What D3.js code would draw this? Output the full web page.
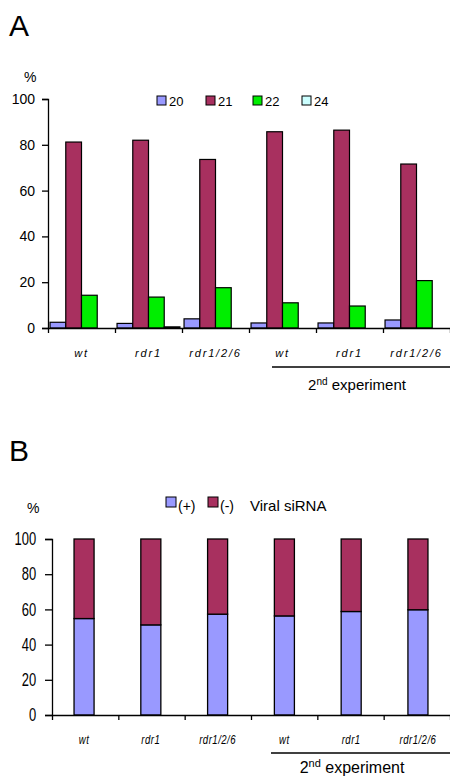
<!DOCTYPE html>
<html>
<head>
<meta charset="utf-8">
<script src="https://cdn.jsdelivr.net/npm/d3@7"></script>
<style>
  body { margin: 0; background: #fff; }
  svg { display: block; font-family: "Liberation Sans", Arial, sans-serif; }
  .axis path, .axis line { stroke: #000; stroke-width: 1.3; }
  .cat { font-style: italic; font-size: 11px; letter-spacing: 1.8px; }
</style>
</head>
<body>
<div id="chart"></div>
<script>
// data
var categories = ["wt", "rdr1", "rdr1/2/6", "wt", "rdr1", "rdr1/2/6"];
var sizes = ["20", "21", "22", "24"];
var nt20 = [2.5, 2, 4, 2.2, 2.2, 3.5];
var nt21 = [81.2, 82, 73.6, 85.7, 86.4, 71.6];
var nt22 = [14.3, 13.5, 17.6, 11, 9.6, 20.7];
var nt24 = [0, 0.5, 0, 0, 0, 0];
var strands = ["(+)", "(-)"];
var plusStrand = [54.8, 51.2, 57.3, 56.3, 58.8, 59.8];
var yTicks = [0, 20, 40, 60, 80, 100];

var sizeColors = ["#9999ff", "#a8305f", "#00ee00", "#ccffff"];
var strandColors = ["#9999ff", "#a8305f"];

var svg = d3.select('#chart').append('svg')
  .attr('width', 450)
  .attr('height', 778);

var catIds = categories.map(function(d, i) { return i; });

// ---------- panel A ----------
var gA = svg.append('g');

gA.append('text').attr('x', 9).attr('y', 36)
  .style('font-size', '30px').text('A');
gA.append('text').attr('x', 24).attr('y', 82)
  .style('font-size', '14px').text('%');

var yA = d3.scaleLinear().domain([0, 100]).range([328, 99]);
var xA = d3.scaleBand().domain(catIds).range([48, 450]).paddingInner(0).paddingOuter(0);
var xA1 = d3.scaleBand().domain(sizes).range([0, xA.bandwidth()]).paddingOuter(0.13).paddingInner(0);
var edgeA = d3.scaleLinear().domain([0, categories.length]).range([48, 450]);

var seriesA = [nt20, nt21, nt22, nt24];

gA.append('g').attr('class', 'axis')
  .attr('transform', 'translate(48,0)')
  .call(d3.axisLeft(yA).tickValues(yTicks).tickSizeOuter(0).tickSize(6).tickPadding(7))
  .call(function(g) { g.selectAll('text').style('font-size', '14px').attr('fill', '#000'); });

var barsA = gA.append('g');
categories.forEach(function(c, i) {
  seriesA.forEach(function(s, j) {
    barsA.append('rect')
      .attr('x', xA(i) + xA1(sizes[j]))
      .attr('y', yA(s[i]))
      .attr('width', xA1.bandwidth())
      .attr('height', yA(0) - yA(s[i]))
      .attr('fill', sizeColors[j])
      .attr('stroke', '#000')
      .attr('stroke-width', 1.2);
  });
});

gA.append('g').attr('class', 'axis')
  .attr('transform', 'translate(0,' + yA(0) + ')')
  .call(d3.axisBottom(edgeA).tickValues(d3.range(1, categories.length)).tickSizeOuter(0).tickSize(5).tickFormat(''));

gA.selectAll('.catA').data(categories).enter().append('text')
  .attr('class', 'cat')
  .attr('x', function(d, i) { return xA(i) + xA.bandwidth() / 2; })
  .attr('y', 357)
  .attr('text-anchor', 'middle')
  .text(function(d) { return d; });

// legend A
var legA = gA.append('g').attr('transform', 'translate(157,96)');
var legAx = [0, 49, 96, 145];
sizes.forEach(function(s, j) {
  legA.append('rect').attr('x', legAx[j]).attr('y', 0).attr('width', 9).attr('height', 9)
    .attr('fill', sizeColors[j]).attr('stroke', '#000').attr('stroke-width', 1);
  legA.append('text').attr('x', legAx[j] + 12).attr('y', 10)
    .style('font-size', '13px').text(s);
});

// 2nd experiment A
gA.append('line').attr('x1', edgeA(3) + 23).attr('x2', 450).attr('y1', 367).attr('y2', 367)
  .attr('stroke', '#000').attr('stroke-width', 1.3);
var expA = gA.append('text').attr('x', 357).attr('y', 390).attr('text-anchor', 'middle')
  .style('font-size', '15px');
expA.append('tspan').text('2');
expA.append('tspan').attr('dy', -5).style('font-size', '10px').text('nd');
expA.append('tspan').attr('dy', 5).text(' experiment');

// ---------- panel B ----------
var gB = svg.append('g');

gB.append('text').attr('x', 9).attr('y', 461)
  .style('font-size', '30px').text('B');
gB.append('text').attr('x', 27).attr('y', 513)
  .style('font-size', '14px').text('%');

var yB = d3.scaleLinear().domain([0, 100]).range([715, 539]);
var xB = d3.scaleBand().domain(catIds).range([52, 450]).paddingInner(0.7).paddingOuter(0.33);
var edgeB = d3.scaleLinear().domain([0, categories.length]).range([52, 450]);

// narrow looking tick labels (squeezed horizontally)
gB.append('g').attr('class', 'axis')
  .attr('transform', 'translate(52,0)')
  .call(d3.axisLeft(yB).tickValues(yTicks).tickSizeOuter(0).tickSize(7).tickPadding(4))
  .call(function(g) {
    g.selectAll('text').style('font-size', '18px').attr('fill', '#000')
      .attr('x', -22).attr('transform', 'scale(0.72,1)');
  });

var stackB = d3.stack().keys([0, 1]).value(function(d, k) { return k === 0 ? d : 100 - d; })(plusStrand);
var barsB = gB.append('g');
stackB.forEach(function(layer, k) {
  layer.forEach(function(p, i) {
    barsB.append('rect')
      .attr('x', xB(i))
      .attr('y', yB(p[1]))
      .attr('width', xB.bandwidth())
      .attr('height', yB(p[0]) - yB(p[1]))
      .attr('fill', strandColors[k])
      .attr('stroke', '#000')
      .attr('stroke-width', 1.3);
  });
});

gB.append('g').attr('class', 'axis')
  .attr('transform', 'translate(0,' + yB(0) + ')')
  .call(d3.axisBottom(edgeB).tickValues(d3.range(1, categories.length)).tickSizeOuter(0).tickSize(5).tickFormat(''));

gB.selectAll('.catB').data(categories).enter().append('text')
  .attr('transform', function(d, i) {
    return 'translate(' + (xB(i) + xB.bandwidth() / 2) + ',744) scale(0.8,1)';
  })
  .attr('text-anchor', 'middle')
  .style('font-style', 'italic')
  .style('font-size', '12px')
  .style('letter-spacing', '0.6px')
  .text(function(d) { return d; });

// legend B
var legB = gB.append('g').attr('transform', 'translate(166,497)');
var legBx = [0, 42];
strands.forEach(function(s, k) {
  legB.append('rect').attr('x', legBx[k]).attr('y', 0).attr('width', 10).attr('height', 10)
    .attr('fill', strandColors[k]).attr('stroke', '#000').attr('stroke-width', 1);
  legB.append('text').attr('x', legBx[k] + 12).attr('y', 14)
    .style('font-size', '14px').text(s);
});
legB.append('text').attr('x', 84).attr('y', 14).style('font-size', '15px').text('Viral siRNA');

// 2nd experiment B
gB.append('line').attr('x1', edgeB(3) + 20).attr('x2', 450).attr('y1', 753).attr('y2', 753)
  .attr('stroke', '#000').attr('stroke-width', 1.3);
var expB = gB.append('text').attr('x', 352).attr('y', 773).attr('text-anchor', 'middle')
  .style('font-size', '16px');
expB.append('tspan').text('2');
expB.append('tspan').attr('dy', -6).style('font-size', '11px').text('nd');
expB.append('tspan').attr('dy', 6).text(' experiment');
</script>
</body>
</html>
